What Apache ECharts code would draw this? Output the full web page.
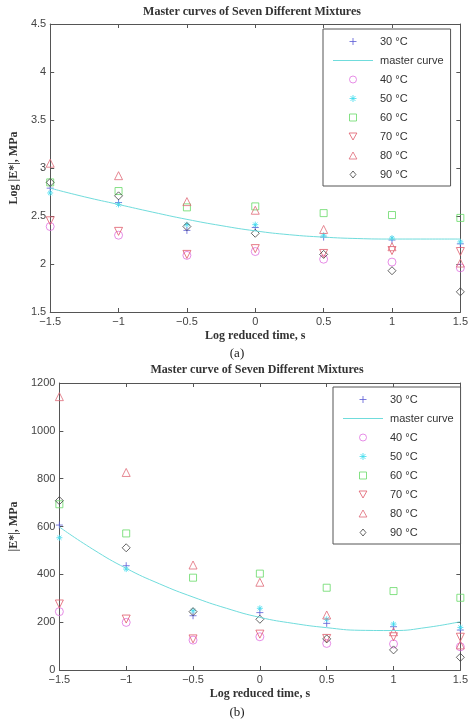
<!DOCTYPE html>
<html>
<head>
<meta charset="utf-8">
<script src="https://cdn.jsdelivr.net/npm/echarts@6/dist/echarts.min.js"></script>
<style>
  html, body { margin: 0; padding: 0; background: #fff; }
  #chart { width: 471px; height: 725px; }
</style>
</head>
<body>
<div id="chart"></div>
<script>
// reduced time (log s) where the mixtures were measured
const logTime = [-1.5, -1, -0.5, 0, 0.5, 1, 1.5];
// master curve sampled along the x axis
const curveTime = [-1.5, -1.25, -1, -0.75, -0.5, -0.25, 0, 0.25, 0.5, 0.75, 1, 1.25, 1.5];

// (a) Log |E*|
const logE30 = [2.79, 2.64, 2.35, 2.38, 2.28, 2.25, 2.21];
const logE40 = [2.39, 2.30, 2.09, 2.13, 2.05, 2.02, 1.96];
const logE50 = [2.74, 2.62, 2.41, 2.41, 2.30, 2.27, 2.23];
const logE60 = [2.85, 2.76, 2.59, 2.60, 2.53, 2.51, 2.48];
const logE70 = [2.45, 2.34, 2.10, 2.16, 2.11, 2.14, 2.13];
const logE80 = [3.05, 2.92, 2.65, 2.56, 2.36, 2.18, 2.01];
const logE90 = [2.85, 2.71, 2.39, 2.32, 2.10, 1.93, 1.71];
const logMaster = [2.79, 2.70, 2.62, 2.54, 2.465, 2.40, 2.345, 2.305, 2.28, 2.265, 2.26, 2.26, 2.26];

// (b) |E*| in MPa
const e30 = [606, 436, 227, 240, 195, 181, 167];
const e40 = [244, 199, 125, 139, 111, 109, 97];
const e50 = [553, 422, 248, 258, 212, 192, 178];
const e60 = [693, 571, 386, 403, 344, 330, 302];
const e70 = [276, 213, 130, 150, 132, 139, 137];
const e80 = [1143, 826, 439, 367, 230, 160, 105];
const e90 = [708, 511, 244, 212, 130, 84, 53];
const eMaster = [598, 505, 425, 360, 305, 258, 220, 195, 177, 166, 165, 178, 202];

const legendNames = ['30 °C', 'master curve', '40 °C', '50 °C', '60 °C', '70 °C', '80 °C', '90 °C'];

const SANS = 'Liberation Sans';
const SERIF = 'Liberation Serif';
const axisGray = '#555';

// matlab-like markers, hollow, drawn with the stroke only
const marks = {
  '30 °C': { symbol: 'path://M5,0 L5,10 M0,5 L10,5', color: '#5b5bd6', size: 7 },
  '40 °C': { symbol: 'circle', color: '#e070e0', size: 8 },
  '50 °C': { symbol: 'path://M5,0 L5,10 M0,5 L10,5 M1.5,1.5 L8.5,8.5 M8.5,1.5 L1.5,8.5', color: '#3fdcee', size: 6 },
  '60 °C': { symbol: 'path://M0,0 L10,0 L10,10 L0,10 Z', color: '#66d966', size: 7 },
  '70 °C': { symbol: 'path://M0,0 L10,0 L5,9 Z', color: '#e05a6a', size: 8 },
  '80 °C': { symbol: 'path://M5,0 L10,9 L0,9 Z', color: '#e06a78', size: 8 },
  '90 °C': { symbol: 'path://M5,0 L10,6 L5,12 L0,6 Z', color: '#404040', size: 8 }
};
const curveColor = '#70dcdc';

function pairs(xs, ys) {
  return xs.map((x, i) => [x, ys[i]]);
}

function scatter(name, ys, axisIdx) {
  const m = marks[name];
  return {
    name: name,
    type: 'scatter',
    xAxisIndex: axisIdx,
    yAxisIndex: axisIdx,
    symbol: m.symbol,
    symbolSize: m.size,
    itemStyle: { color: 'none', borderColor: m.color, borderWidth: 1 },
    data: pairs(logTime, ys)
  };
}

function curve(ys, axisIdx) {
  return {
    name: 'master curve',
    type: 'line',
    xAxisIndex: axisIdx,
    yAxisIndex: axisIdx,
    smooth: true,
    symbol: 'none',
    lineStyle: { color: curveColor, width: 1 },
    itemStyle: { color: curveColor },
    data: pairs(curveTime, ys)
  };
}

function minusSign(v) {
  return String(v).replace('-', '\u2212');
}

function xAxes(gridIndex) {
  const base = {
    type: 'value', gridIndex: gridIndex, min: -1.5, max: 1.5, interval: 0.5,
    splitLine: { show: false },
    axisLine: { show: true, onZero: false, lineStyle: { color: axisGray } },
    axisTick: { show: true, inside: true, length: 4, lineStyle: { color: axisGray } }
  };
  return [
    Object.assign({}, base, {
      position: 'bottom',
      name: 'Log reduced time, s',
      nameLocation: 'middle',
      nameGap: 18,
      nameTextStyle: { fontFamily: SERIF, fontWeight: 'bold', fontSize: 12, color: '#333' },
      axisLabel: { margin: 4, fontFamily: SANS, fontSize: 11, color: '#444', formatter: minusSign }
    }),
    Object.assign({}, base, { position: 'top', axisLabel: { show: false } })
  ];
}

function yAxes(gridIndex, min, max, interval, name, gap) {
  const base = {
    type: 'value', gridIndex: gridIndex, min: min, max: max, interval: interval,
    splitLine: { show: false },
    axisLine: { show: true, onZero: false, lineStyle: { color: axisGray } },
    axisTick: { show: true, inside: true, length: 4, lineStyle: { color: axisGray } }
  };
  return [
    Object.assign({}, base, {
      position: 'left',
      name: name,
      nameLocation: 'middle',
      nameGap: gap,
      nameTextStyle: { fontFamily: SERIF, fontWeight: 'bold', fontSize: 12, color: '#333' },
      axisLabel: { margin: 4, fontFamily: SANS, fontSize: 11, color: '#444', formatter: v => String(v) }
    }),
    Object.assign({}, base, { position: 'right', axisLabel: { show: false } })
  ];
}

function legend(left, top) {
  return {
    data: legendNames.map(n => n === 'master curve'
      ? { name: n, icon: 'path://M0,0 L40,0 L40,1 L0,1 Z' }
      : { name: n }),
    orient: 'vertical',
    left: left,
    top: top,
    padding: [6, 7, 5, 10],
    itemWidth: 40,
    itemHeight: 7,
    itemGap: 6,
    itemStyle: { borderWidth: 1 },
    borderColor: axisGray,
    borderWidth: 1,
    backgroundColor: '#fff',
    selectedMode: false,
    textStyle: { fontFamily: SANS, fontSize: 11, color: '#333', lineHeight: 13, padding: [0, 0, 0, 2] }
  };
}

const chart = echarts.init(document.getElementById('chart'), null, { renderer: 'canvas' });

chart.setOption({
  animation: false,
  backgroundColor: '#fff',
  grid: [
    { left: 41, top: 24, width: 422, height: 288 },
    { left: 50, top: 383, width: 414, height: 287 }
  ],
  xAxis: xAxes(0).concat(xAxes(1)),
  yAxis: yAxes(0, 1.5, 4.5, 0.5, 'Log |E*|, MPa', 23).concat(yAxes(1, 0, 1200, 200, '|E*|, MPa', 32)),
  legend: [legend(323, 29), legend(333, 387)],
  graphic: [
    { type: 'text', x: 252, y: 12, style: { text: 'Master curves of Seven Different Mixtures', align: 'center', verticalAlign: 'middle', font: 'bold 12px "Liberation Serif"', fill: '#333' } },
    { type: 'text', x: 237, y: 354, style: { text: '(a)', align: 'center', verticalAlign: 'middle', font: '13px "Liberation Serif"', fill: '#222' } },
    { type: 'text', x: 257, y: 370, style: { text: 'Master curve of Seven Different Mixtures', align: 'center', verticalAlign: 'middle', font: 'bold 12px "Liberation Serif"', fill: '#333' } },
    { type: 'text', x: 237, y: 713, style: { text: '(b)', align: 'center', verticalAlign: 'middle', font: '13px "Liberation Serif"', fill: '#222' } }
  ],
  series: [
    scatter('30 °C', logE30, 0),
    curve(logMaster, 0),
    scatter('40 °C', logE40, 0),
    scatter('50 °C', logE50, 0),
    scatter('60 °C', logE60, 0),
    scatter('70 °C', logE70, 0),
    scatter('80 °C', logE80, 0),
    scatter('90 °C', logE90, 0),
    scatter('30 °C', e30, 2),
    curve(eMaster, 2),
    scatter('40 °C', e40, 2),
    scatter('50 °C', e50, 2),
    scatter('60 °C', e60, 2),
    scatter('70 °C', e70, 2),
    scatter('80 °C', e80, 2),
    scatter('90 °C', e90, 2)
  ]
});
</script>
</body>
</html>
